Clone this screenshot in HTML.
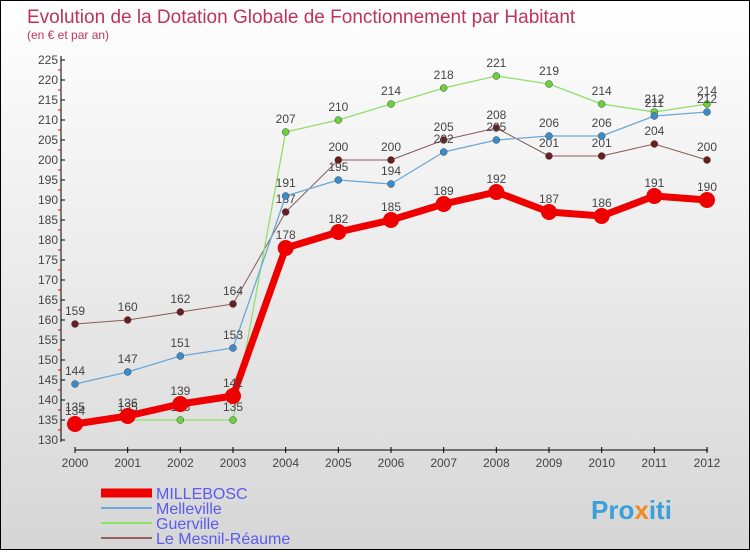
<!DOCTYPE html>
<html><head><meta charset="utf-8"><style>
html,body{margin:0;padding:0}
body{width:750px;height:550px;overflow:hidden;font-family:"Liberation Sans",sans-serif}
#wrap{position:relative;width:748px;height:548px;border:1px solid #000;background:linear-gradient(#ffffff,#d6d6d6)}
</style></head><body>
<div id="wrap">
<svg id="chart" width="748" height="548">
<text x="26" y="22" font-size="19" fill="#c0325a">Evolution de la Dotation Globale de Fonctionnement par Habitant</text>
<text x="26" y="38" font-size="12" fill="#c0325a">(en € et par an)</text>
<text x="590" y="518" font-size="26" font-weight="bold" fill="#3aa0d8">Pro<tspan fill="#f08a1c">x</tspan>iti</text>
</svg>
</div>
<script>
const years=[2000,2001,2002,2003,2004,2005,2006,2007,2008,2009,2010,2011,2012];
const yTicks=[130,135,140,145,150,155,160,165,170,175,180,185,190,195,200,205,210,215,220,225];
const seriesNames=["MILLEBOSC","Melleville","Guerville","Le Mesnil-Réaume"];
const millebosc=[134,136,139,141,178,182,185,189,192,187,186,191,190];
const melleville=[144,147,151,153,191,195,194,202,205,206,206,211,212];
const guerville=[135,135,135,135,207,210,214,218,221,219,214,212,214];
const mesnil=[159,160,162,164,187,200,200,205,208,201,201,204,200];
const NS="http://www.w3.org/2000/svg";
const svg=document.getElementById('chart');
const xS=i=>74+i*(632/12);
const yS=v=>439-(v-130)*4;
function mk(t,a,p){const e=document.createElementNS(NS,t);for(const k in a)e.setAttribute(k,a[k]);(p||svg).appendChild(e);return e;}
// axes
let ax=mk('line',{x1:60,y1:55,x2:60,y2:441,stroke:'#000','stroke-width':1});


let bx=mk('line',{x1:74,y1:449,x2:707,y2:449,stroke:'#000','stroke-width':1});


yTicks.forEach(v=>{
  mk('line',{x1:60,y1:yS(v),x2:64,y2:yS(v),stroke:'#000'});
  if(v<225)mk('line',{x1:57,y1:yS(v+2.5),x2:60,y2:yS(v+2.5),stroke:'#e00'});
  const t=mk('text',{x:57,y:yS(v)+4,'text-anchor':'end','font-size':12,fill:'#444'});
  t.textContent=v;
  
  
});
years.forEach((y,i)=>{
  mk('line',{x1:xS(i),y1:446,x2:xS(i),y2:452,stroke:'#000'});
  const t=mk('text',{x:xS(i),y:466,'text-anchor':'middle','font-size':12,fill:'#444'});
  t.textContent=y;
  
  
});
const defs=[[mesnil,'#6b1e22','#8b5a5a',1,3.5,'mesnil'],[guerville,'#6cd23c','#8ee06a',1.3,3.5,'guerville'],[melleville,'#3a8ccc','#6aa8d8',1.3,3.5,'melleville'],[millebosc,'#ee0000','#ee0000',7,8,'millebosc']];
defs.forEach(([data,dot,line,w,r,name])=>{
  const g=mk('g',{});
  
  
  const pl=mk('polyline',{points:data.map((v,i)=>xS(i)+','+yS(v)).join(' '),fill:'none',stroke:line,'stroke-width':w,'stroke-linejoin':'round'},g);
  
  
  data.forEach((v,i)=>{
    const c=mk('circle',{cx:xS(i),cy:yS(v),r:r,fill:dot,stroke:name==='millebosc'?'none':'#444','stroke-width':0.5},g);
    
    
    const t=mk('text',{x:xS(i),y:yS(v)-9,'text-anchor':'middle','font-size':12,fill:'#444'},g);
    t.textContent=v;
    
    
  });
});
// legend
const legCols=['#ee0000','#6aa8d8','#8ee06a','#9a6060'];
const legW=[9,2,2,2];
seriesNames.forEach((n,i)=>{
  const y=492+i*15;
  const g=mk('g',{});
  
  
  mk('line',{x1:100,y1:y,x2:151,y2:y,stroke:legCols[i],'stroke-width':legW[i]},g);
  const t=mk('text',{x:155,y:y+6,'font-size':16,fill:'#5a5af0'},g);
  t.textContent=n;
});
</script>
</body></html>
